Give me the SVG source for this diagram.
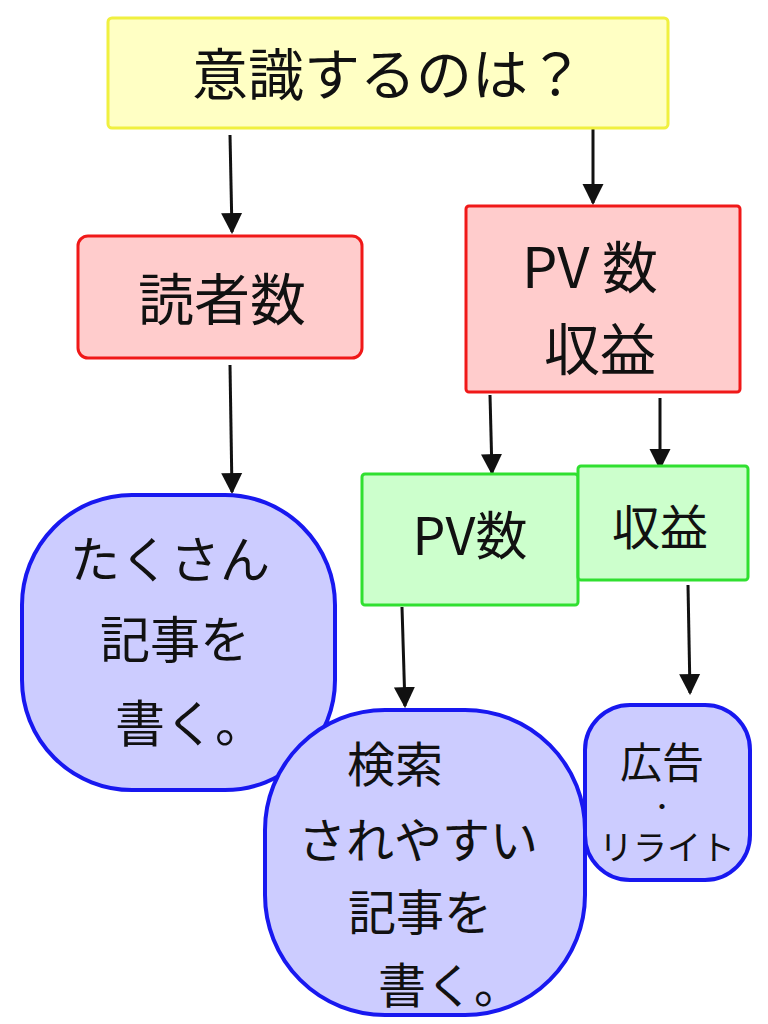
<svg xmlns="http://www.w3.org/2000/svg" width="768" height="1024" viewBox="0 0 768 1024">
<style>
text{font-family:"Noto Sans CJK JP","Noto Sans",sans-serif;fill:#111;text-anchor:middle}
.y{fill:#ffffc4;stroke:#f0f040;stroke-width:3}
.r{fill:#ffcccc;stroke:#f01818;stroke-width:3}
.g{fill:#ccffcc;stroke:#30e030;stroke-width:3}
.b{fill:#ccccff;stroke:#1818f0;stroke-width:4}
.c{stroke:#111;stroke-width:3;fill:none;marker-end:url(#a)}
</style>
<defs><marker id="a" viewBox="0 0 10 10" refX="9" refY="5" markerWidth="7" markerHeight="8" orient="auto"><path d="M0,0L10,5L0,10z" fill="#111"/></marker></defs>
<rect width="768" height="1024" fill="#fff"/>
<g id="connectors">
<line class="c" x1="230" y1="135" x2="232" y2="232"/>
<line class="c" x1="593" y1="125" x2="593" y2="203"/>
<line class="c" x1="230" y1="365" x2="232" y2="492"/>
<line class="c" x1="490" y1="395" x2="492" y2="473"/>
<line class="c" x1="660" y1="398" x2="660" y2="468"/>
<line class="c" x1="402" y1="607" x2="405" y2="706"/>
<line class="c" x1="688" y1="585" x2="690" y2="693"/>
</g>
<g id="top"><rect class="y" x="108" y="18" width="560" height="110" rx="4"/><text x="388" y="95" font-size="56">意識するのは？</text></g>
<g id="readers"><rect class="r" x="78" y="236" width="284" height="122" rx="10"/><text x="222" y="320" font-size="56">読者数</text></g>
<g id="pvinc"><rect class="r" x="466" y="206" width="274" height="186" rx="3"/><text x="590" y="288" font-size="56">PV 数</text><text x="600" y="370" font-size="56">収益</text></g>
<g id="pv"><rect class="g" x="362" y="474" width="216" height="131" rx="3"/><text x="470" y="555" font-size="52">PV数</text></g>
<g id="inc"><rect class="g" x="578" y="466" width="170" height="114" rx="3"/><text x="660" y="545" font-size="48">収益</text></g>
<g id="write"><rect class="b" x="22" y="495" width="313" height="295" rx="110"/><text x="170" y="578" font-size="50">たくさん</text><text x="175" y="658" font-size="50">記事を</text><text x="190" y="742" font-size="50">書く。</text></g>
<g id="seo"><rect class="b" x="265" y="710" width="320" height="305" rx="120"/><text x="395" y="782" font-size="48">検索</text><text x="418" y="858" font-size="48">されやすい</text><text x="420" y="930" font-size="48">記事を</text><text x="450" y="1003" font-size="48">書く。</text></g>
<g id="ad"><rect class="b" x="585" y="705" width="165" height="175" rx="45"/><text x="662" y="778" font-size="42">広告</text><text x="662" y="815" font-size="24">・</text><text x="667" y="860" font-size="34">リライト</text></g>
</svg>
